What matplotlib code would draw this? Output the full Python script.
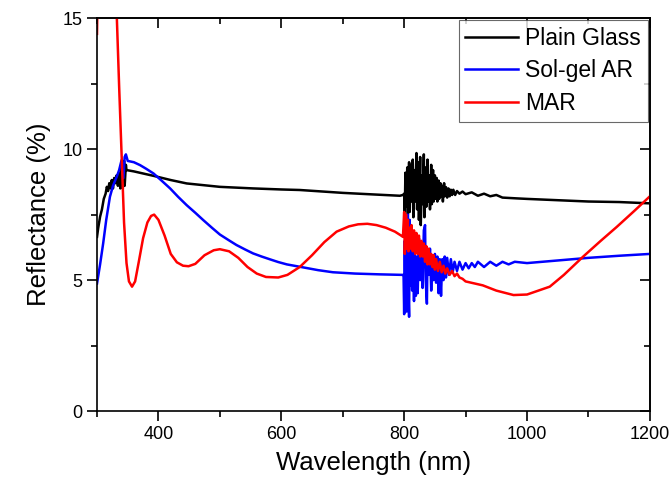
import numpy as np
import matplotlib
matplotlib.use('Agg')
import matplotlib.pyplot as plt
from matplotlib.ticker import MultipleLocator

plt.rcParams['font.family'] = ['Liberation Sans', 'DejaVu Sans']

# Plain glass reflectance
glass_wl = [300, 302, 305, 308, 311, 314, 316, 318, 320, 322, 324, 326, 328, 330, 332, 334,
            336, 338, 340, 342, 344, 345, 347, 348, 360, 375, 392, 420, 446, 475, 500, 554,
            600, 630, 700, 750, 793, 798,
            800, 801, 802, 803, 805, 806, 808, 809, 811, 812, 814, 815, 817, 818, 820, 821,
            823, 824, 826, 827, 829, 830, 832, 833, 835, 836, 838, 839, 841, 842, 844, 845,
            847, 848, 850, 851, 853, 854, 856, 857, 859, 860, 862, 863, 865, 866, 868, 870,
            872, 874, 876, 878, 880, 883, 886, 890, 895, 900, 910, 920, 930, 940, 950, 960,
            983, 1000, 1050, 1100, 1150, 1200]
glass_r = [6.65, 7.0, 7.42, 7.7, 8.1, 8.3, 8.56, 8.4, 8.7, 8.5, 8.82, 8.5, 8.9, 8.7, 9.0, 8.6,
           9.1, 8.5, 9.3, 8.5, 9.55, 8.6, 9.4, 9.2, 9.15, 9.07, 8.98, 8.82, 8.69, 8.62, 8.56, 8.5,
           8.46, 8.44, 8.33, 8.27, 8.22, 8.25,
           8.3, 7.6, 9.1, 7.8, 9.3, 7.5, 9.5, 7.6, 9.4, 8.0, 9.6, 7.4, 9.2, 8.0, 9.85, 7.7,
           9.5, 7.3, 9.7, 7.1, 9.0, 7.9, 9.8, 7.4, 9.3, 7.8, 9.6, 8.0, 9.0, 7.7, 9.4, 7.9,
           9.2, 8.0, 9.0, 8.1, 8.9, 8.0, 8.8, 8.1, 8.7, 8.2, 8.6, 8.0, 8.7, 8.2, 8.55, 8.15,
           8.5, 8.2, 8.45, 8.25, 8.45, 8.25, 8.4, 8.3, 8.38, 8.28, 8.35, 8.22, 8.3, 8.2, 8.25, 8.15,
           8.12, 8.1, 8.05, 8.0, 7.98, 7.93]

# Sol-gel AR coating
solgel_wl = [300, 305, 310, 315, 321, 326, 332, 336, 340, 343, 345, 347, 350, 360, 370, 380,
             392, 405, 419, 432, 446, 460, 473, 487, 500, 514, 527, 541, 554, 568, 582, 595,
             609, 630, 660, 684, 720, 760, 797,
             799, 800, 801, 802, 803, 804, 806, 807, 808, 809, 810, 811, 813, 814, 816, 817,
             819, 820, 822, 824, 826, 828, 830, 832, 834, 835, 837, 838, 840, 842, 844, 846,
             848, 850, 852, 854, 856, 858, 860, 862, 864, 866, 868, 870, 873, 876, 879, 882,
             886, 890, 895, 900, 905, 910, 915, 920, 930, 940, 950, 960, 970, 980, 1000,
             1050, 1100, 1150, 1200]
solgel_r = [4.87, 5.6, 6.4, 7.3, 8.18, 8.6, 8.94, 9.2, 9.58, 8.9, 9.7, 9.8, 9.55, 9.5, 9.39, 9.25,
            9.07, 8.8, 8.5, 8.18, 7.86, 7.57, 7.29, 7.0, 6.74, 6.53, 6.34, 6.17, 6.02, 5.9, 5.79, 5.69,
            5.6, 5.51, 5.38, 5.3, 5.25, 5.22, 5.2,
            5.2, 3.7, 6.5, 4.2, 7.0, 3.8, 7.5, 4.5, 3.6, 7.3, 4.8, 6.2, 4.6, 6.8, 4.2, 6.0,
            4.4, 5.9, 4.5, 6.6, 5.0, 6.4, 4.7, 6.9, 7.1, 5.0, 4.1, 6.0, 5.2, 6.2, 4.6, 5.9,
            5.0, 6.0, 4.9, 5.9, 4.5, 5.8, 4.4, 5.8, 5.0, 5.9, 5.1, 5.85, 5.2, 5.8, 5.3, 5.7,
            5.35, 5.7, 5.4, 5.65, 5.45, 5.65, 5.5, 5.7, 5.5, 5.7, 5.55, 5.7, 5.6, 5.7, 5.65,
            5.75, 5.85, 5.93, 6.0]

# MAR coating
mar_wl = [300, 301, 330, 332, 336, 340, 344, 348, 352, 357, 362, 368, 375, 382, 388, 393,
          400, 410, 420, 430, 440, 449, 460, 475, 490, 500, 515, 530, 545, 560, 575, 595,
          610, 630, 650, 670, 690, 710, 725, 740, 755, 770, 785, 795, 798,
          800, 801, 803, 804, 806, 807, 809, 810, 812, 814, 816, 818, 820, 822, 824, 826,
          828, 830, 832, 834, 836, 838, 840, 842, 844, 846, 848, 850, 852, 855, 858, 861,
          864, 867, 870, 874, 878, 882, 886, 890, 895, 900, 928, 950, 978, 1000, 1037,
          1060, 1091, 1120, 1146, 1175, 1200]
mar_r = [14.4, 16.0, 16.0, 15.2, 12.4, 9.8, 7.2, 5.65, 4.95, 4.75, 4.95, 5.7, 6.6, 7.2, 7.45, 7.5,
         7.3, 6.7, 6.0, 5.68, 5.55, 5.53, 5.62, 5.95, 6.14, 6.18, 6.1, 5.85, 5.5, 5.25, 5.12, 5.1,
         5.2, 5.5, 5.95, 6.45, 6.85, 7.05, 7.13, 7.15, 7.1, 7.0, 6.85, 6.7, 6.65,
         7.6, 6.0, 7.5, 6.2, 7.3, 6.1, 7.0, 6.2, 7.1, 6.1, 6.9, 6.0, 6.8, 6.0, 6.7, 5.9,
         6.5, 5.9, 6.4, 5.7, 6.3, 5.6, 6.2, 5.6, 6.0, 5.5, 5.95, 5.4, 5.8, 5.35, 5.7, 5.3,
         5.55, 5.25, 5.45, 5.2, 5.35, 5.15, 5.25, 5.1, 5.05, 4.95, 4.8, 4.6, 4.43, 4.45, 4.75,
         5.2, 5.89, 6.5, 7.03, 7.65, 8.2]

fig = plt.figure(figsize=(6.7, 4.9), dpi=100)
ax = fig.add_axes([0.1448, 0.161, 0.8252, 0.802])

ax.plot(glass_wl, glass_r, color='black', lw=1.8, label='Plain Glass')
ax.plot(solgel_wl, solgel_r, color='#0000ff', lw=1.8, label='Sol-gel AR')
ax.plot(mar_wl, mar_r, color='#ff0000', lw=1.8, label='MAR')

ax.set_xlim(300, 1200)
ax.set_ylim(0, 15)
ax.xaxis.set_minor_locator(MultipleLocator(100))
ax.yaxis.set_major_locator(MultipleLocator(5))
ax.yaxis.set_minor_locator(MultipleLocator(2.5))
ax.set_xticks([400, 600, 800, 1000, 1200])

for s in ax.spines.values():
    s.set_linewidth(1.2)

ax.tick_params(which='both', direction='out', width=1.2, labelsize=13)
ax.tick_params(which='major', length=7)
ax.tick_params(which='minor', length=4)

# inward mirror ticks on top and right
top = ax.secondary_xaxis('top')
top.set_xticks([400, 600, 800, 1000, 1200])
top.xaxis.set_minor_locator(MultipleLocator(100))
top.tick_params(which='both', direction='in', width=1.2, labeltop=False)
top.tick_params(which='major', length=7)
top.tick_params(which='minor', length=4)
right = ax.secondary_yaxis('right')
right.yaxis.set_major_locator(MultipleLocator(5))
right.yaxis.set_minor_locator(MultipleLocator(2.5))
right.tick_params(which='both', direction='in', width=1.2, labelright=False)
right.tick_params(which='major', length=7)
right.tick_params(which='minor', length=4)
top.spines['top'].set_linewidth(1.2)
right.spines['right'].set_linewidth(1.2)

ax.set_xlabel('Wavelength (nm)', fontsize=18.5, labelpad=6)
ax.set_ylabel('Reflectance (%)', fontsize=18.5, labelpad=8)

leg = ax.legend(loc='upper right', fontsize=16.5, handlelength=2.3, handletextpad=0.3,
                labelspacing=0.4, borderaxespad=0.1, borderpad=0.3, fancybox=False)
leg.get_frame().set_edgecolor('#444444')
leg.get_frame().set_linewidth(0.8)

fig.savefig('out.png', dpi=100)
